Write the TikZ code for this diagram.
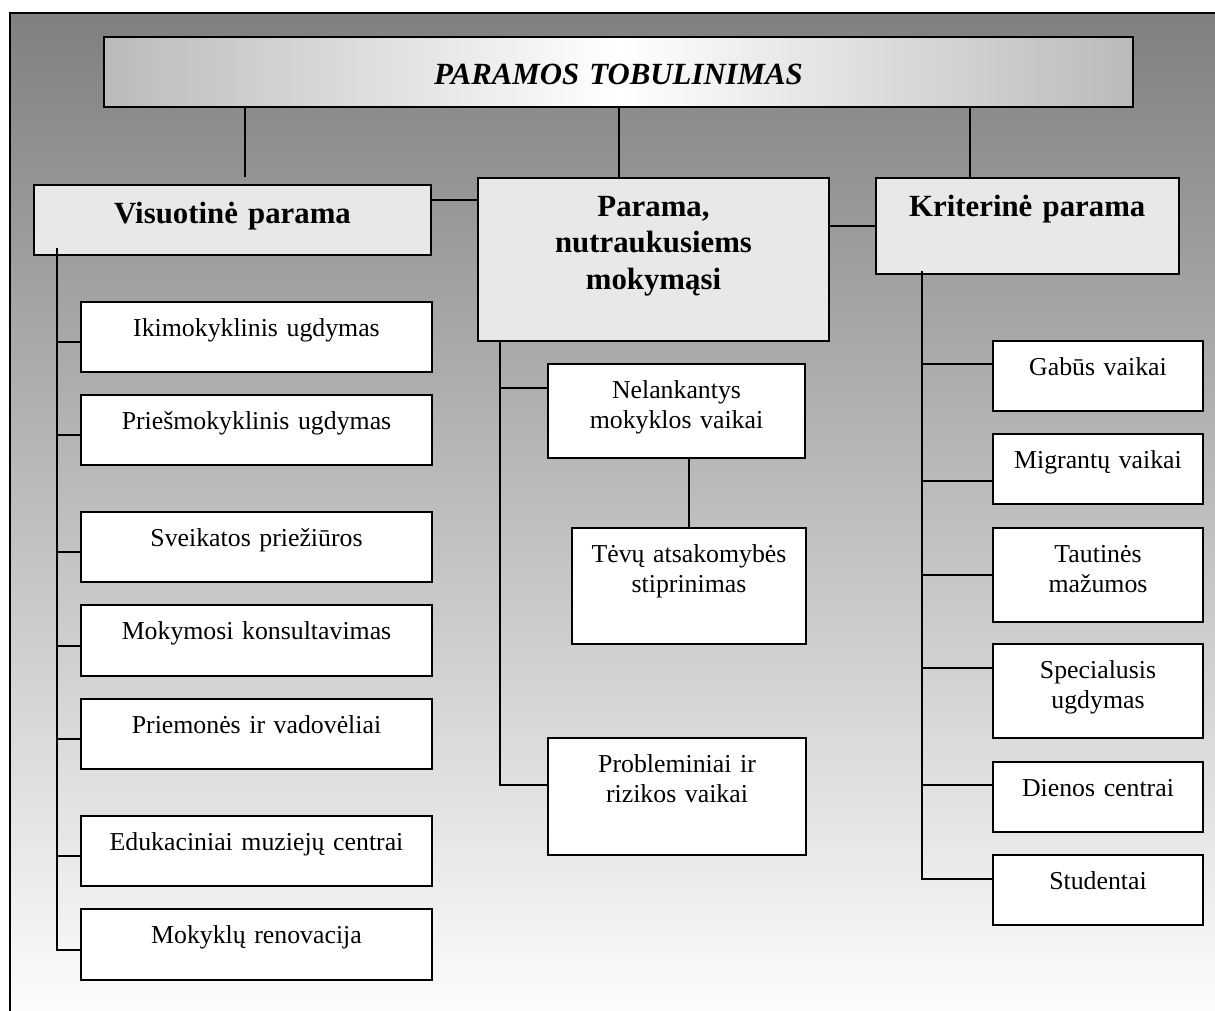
\documentclass[tikz,border=0pt]{standalone}
\usepackage{fontspec}
\setmainfont{Liberation Serif}
\tikzset{
  leaf/.style={draw, line width=1pt, fill=white, inner sep=0pt, align=center,
    anchor=north west, font=\fontsize{12.9}{15}\selectfont, text height=17pt},
  head/.style={draw, line width=1pt, fill=black!9, inner sep=0pt, align=center,
    anchor=north west, font=\fontsize{15.4}{18.3}\selectfont\bfseries, text height=19pt},
  link/.style={line width=1pt}
}
\begin{document}
\begin{tikzpicture}[x=0.5pt,y=-0.5pt]
\useasboundingbox (0,0) rectangle (1215,1011);
\clip (0,0) rectangle (1215,1011);
\draw[line width=1pt, top color=black!50, bottom color=white] (10,13) rectangle (1230,1030);

\node[draw, line width=1pt, left color=black!27, right color=black!27, middle color=white,
  anchor=north west, inner sep=0pt, text width=514.5pt, text height=24pt, text depth=11pt,
  align=center, font=\fontsize{15.4}{18}\selectfont\bfseries\itshape] (title) at (103,36) {PARAMOS TOBULINIMAS};

\node[head, text width=198.5pt, text depth=16pt] (vis) at (33,184) {Visuotinė parama};
\node[head, text width=175.5pt, text depth=62.5pt] (mid) at (477,177) {Parama,\\ nutraukusiems\\ mokymąsi};
\node[head, text width=151.75pt, text depth=29pt] (krit) at (874.5,177) {Kriterinė parama};

\node[leaf, text width=175.5pt, text depth=18pt] (ik) at (80,301) {Ikimokyklinis ugdymas};
\node[leaf, text width=175.5pt, text depth=18pt] (pr) at (80,394) {Priešmokyklinis ugdymas};
\node[leaf, text width=175.5pt, text depth=18pt] (sv) at (80,511) {Sveikatos priežiūros};
\node[leaf, text width=175.5pt, text depth=18.5pt] (mk) at (80,604) {Mokymosi konsultavimas};
\node[leaf, text width=175.5pt, text depth=18pt] (pm) at (80,698) {Priemonės ir vadovėliai};
\node[leaf, text width=175.5pt, text depth=18pt] (ed) at (80,815) {Edukaciniai muziejų centrai};
\node[leaf, text width=175.5pt, text depth=18.5pt] (mr) at (80,908) {Mokyklų renovacija};

\node[leaf, text width=128.5pt, text depth=30pt] (nel) at (547,363) {Nelankantys\\ mokyklos vaikai};
\node[leaf, text width=117pt, text depth=41pt] (tev) at (571,527) {Tėvų atsakomybės\\ stiprinimas};
\node[leaf, text width=129pt, text depth=41.5pt] (prob) at (547,737) {Probleminiai ir\\ rizikos vaikai};

\node[leaf, text width=105pt, text depth=18pt] (gab) at (992,340) {Gabūs vaikai};
\node[leaf, text width=105pt, text depth=18pt] (mig) at (992,433) {Migrantų vaikai};
\node[leaf, text width=105pt, text depth=30pt] (tau) at (992,527) {Tautinės\\ mažumos};
\node[leaf, text width=105pt, text depth=30pt] (spe) at (992,643) {Specialusis\\ ugdymas};
\node[leaf, text width=105pt, text depth=18pt] (die) at (992,761) {Dienos centrai};
\node[leaf, text width=105pt, text depth=18pt] (stu) at (992,854) {Studentai};

\coordinate (tv) at ([xshift=6.25pt]vis.north);
\coordinate (tk) at ([xshift=-82pt]title.south east);
\coordinate (vm) at ([yshift=10pt]vis.east);
\coordinate (lsp) at ([xshift=12pt,yshift=4pt]vis.south west);
\coordinate (msp) at ([xshift=11.7pt]mid.south west);
\coordinate (rsp) at ([xshift=23.6pt,yshift=2pt]krit.south west);

\draw[link] (tv |- title.south) -- (tv |- mid.north);
\draw[link] (title.south) -- (title.south |- mid.north);
\draw[link] (tk) -- (tk |- krit.north);
\draw[link] (vm) -- (vm -| mid.west);
\draw[link] (krit.west -| mid.east) -- (krit.west);
\draw[link] (tev.north |- nel.south) -- (tev.north);

\foreach \n in {ik,pr,sv,mk,pm,ed,mr}
  \draw[link] ([yshift=-2.5pt]\n.west) -| (lsp);
\foreach \n/\d in {nel/11.5pt,prob/5.75pt}
  \draw[link] ([yshift=\d]\n.west) -| (msp);
\foreach \n/\d in {gab/6pt,mig/-6pt,tau/0pt,spe/11.5pt,die/6pt,stu/5.5pt}
  \draw[link] ([yshift=\d]\n.west) -| (rsp);
\end{tikzpicture}
\end{document}
